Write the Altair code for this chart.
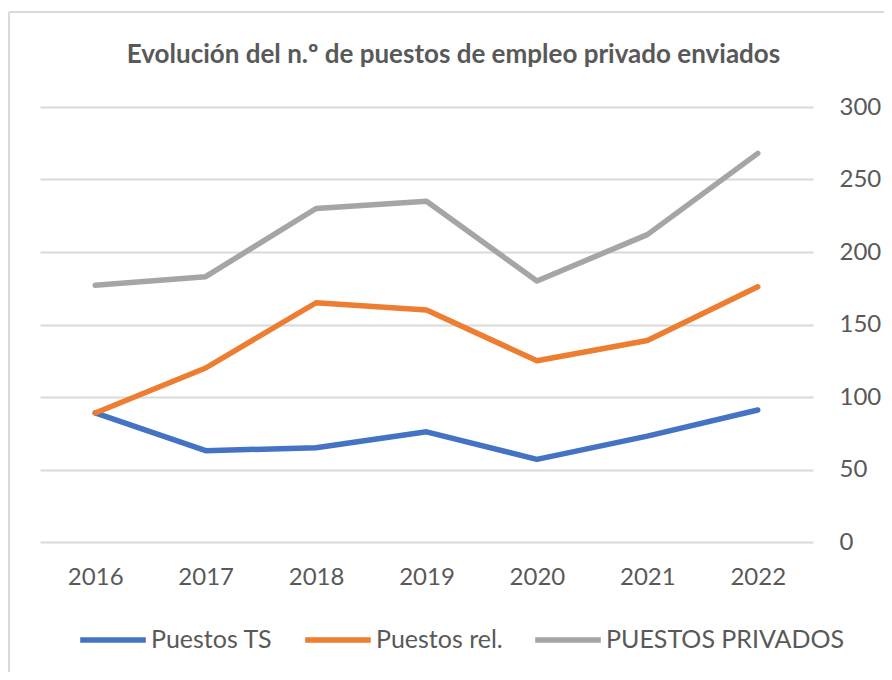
import altair as alt
import pandas as pd

years = ["2016", "2017", "2018", "2019", "2020", "2021", "2022"]
puestos_ts = [89, 63, 65, 76, 57, 73, 91]
puestos_rel = [89, 120, 165, 160, 125, 139, 176]
puestos_priv = [177, 183, 230, 235, 180, 212, 268]
series_names = ["Puestos TS", "Puestos rel.", "PUESTOS PRIVADOS"]
series_colors = ["#4472C4", "#ED7D31", "#A5A5A5"]
y_ticks = [0, 50, 100, 150, 200, 250, 300]
title_text = "Evolución del n.º de puestos de empleo privado enviados"

rows = []
for name, vals in zip(series_names, [puestos_ts, puestos_rel, puestos_priv]):
    for i, (yr, v) in enumerate(zip(years, vals)):
        rows.append({"year": yr, "value": v, "serie": name})
df = pd.DataFrame(rows)

FONT = "Lato"
TXT = "#595959"
W, H = 773, 435
PADL, PADT = 32, 99

lines = alt.Chart(df).mark_line(strokeWidth=5.5, strokeCap="round", strokeJoin="round").encode(
    x=alt.X("year:O", sort=years, title=None,
            axis=alt.Axis(labelAngle=0, domain=False, ticks=False, labelFont=FONT,
                          labelFontSize=24, labelColor=TXT, labelPadding=23)),
    y=alt.Y("value:Q", title=None, scale=alt.Scale(domain=[0, 300], nice=False),
            axis=alt.Axis(orient="right", values=y_ticks, domain=False, ticks=False,
                          grid=True, gridColor="#d9d9d9", gridWidth=2,
                          labelFont=FONT, labelFontSize=24, labelColor=TXT,
                          labelPadding=26)),
    color=alt.Color("serie:N", sort=series_names, title=None,
                    scale=alt.Scale(domain=series_names, range=series_colors),
                    legend=alt.Legend(orient="none", legendX=37, legendY=497,
                                      direction="horizontal", symbolType="stroke",
                                      symbolSize=4300, symbolStrokeWidth=5.5,
                                      labelFont=FONT, labelFontSize=25, labelColor=TXT,
                                      labelLimit=500, labelOffset=2, columnPadding=21,
                                      padding=0)),
    order=alt.Order("year:O"),
)

one = pd.DataFrame({"t": [title_text]})

title = alt.Chart(one).mark_text(font=FONT, fontSize=26, fontWeight="bold", color=TXT,
                                 align="center", baseline="middle").encode(
    text="t:N", x=alt.value(W / 2 + 27), y=alt.value(-52)
)

border = alt.Chart(one).mark_rule(color="#d9d9d9", strokeWidth=2).encode(
    x=alt.value(-PADL + 1), x2=alt.value(W + 100), y=alt.value(-PADT + 4)
)
border_left = alt.Chart(one).mark_rule(color="#d9d9d9", strokeWidth=2).encode(
    x=alt.value(-PADL + 1), y=alt.value(-PADT + 4), y2=alt.value(H + 200)
)

chart = alt.layer(border, border_left, title, lines).properties(
    width=W, height=H,
    autosize=alt.AutoSizeParams(type="none"),
    padding={"left": PADL, "top": PADT, "right": 876 - PADL - W, "bottom": 664 - PADT - H},
    background="white",
).configure_view(stroke=None)

chart.save("out.html", embed_options={"renderer": "svg", "actions": False})
